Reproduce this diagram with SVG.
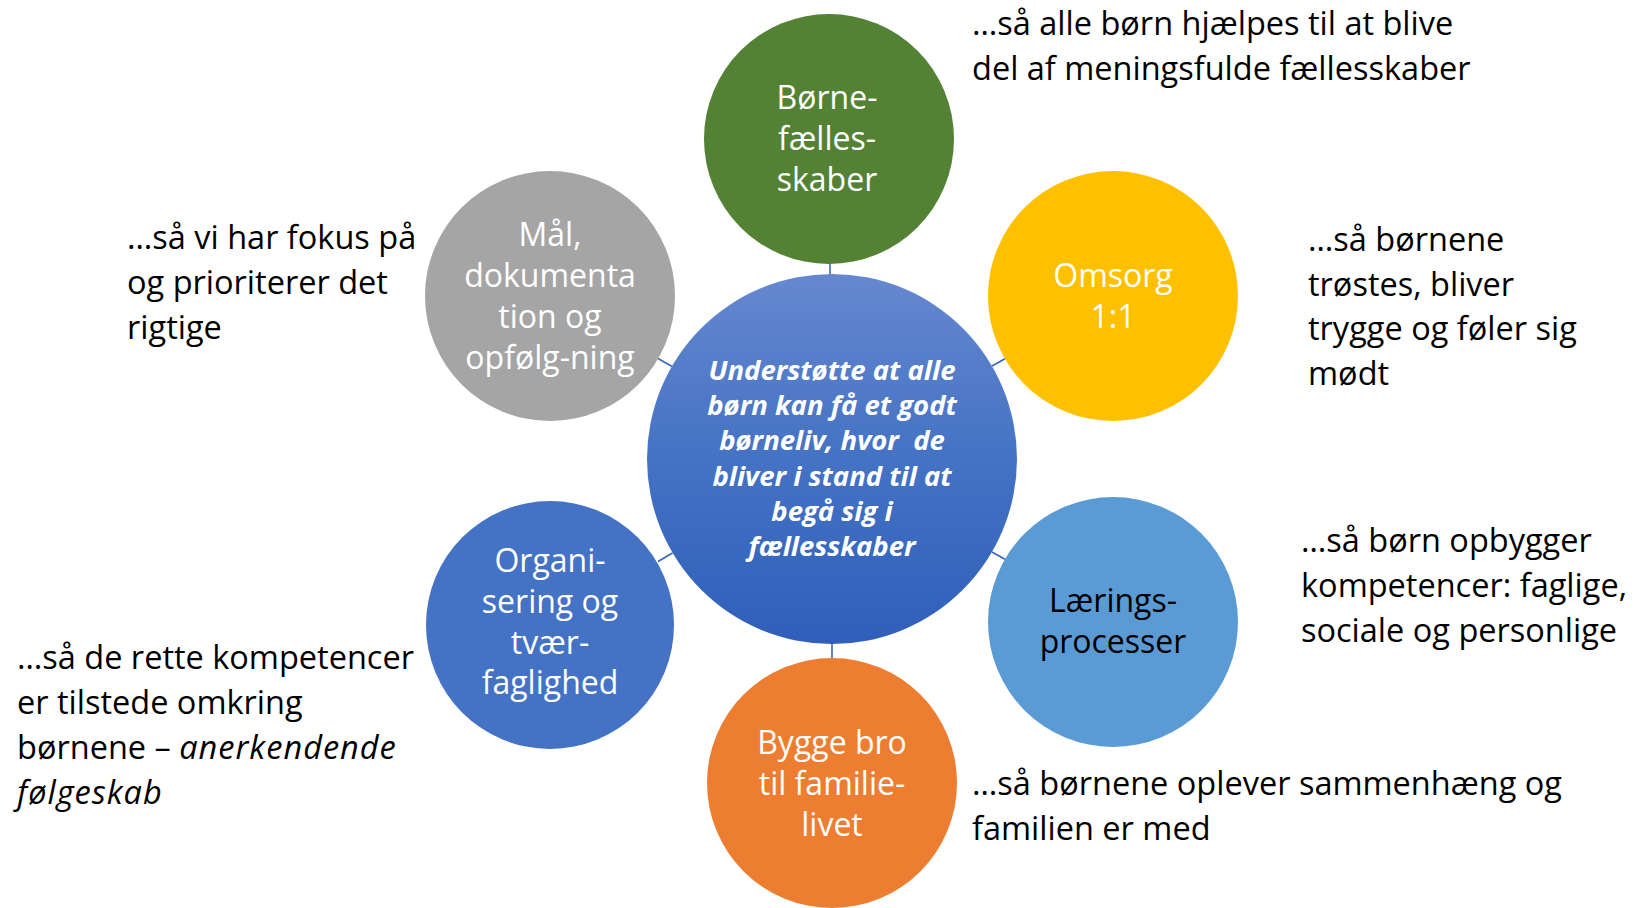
<svg xmlns="http://www.w3.org/2000/svg" width="1637" height="908" viewBox="0 0 1637 908">
  <defs>
    <linearGradient id="centerGrad" x1="0" y1="0" x2="0" y2="1">
      <stop offset="0" stop-color="#6688cf"/>
      <stop offset="0.5" stop-color="#4472c4"/>
      <stop offset="1" stop-color="#2f5fba"/>
    </linearGradient>
    <style>
      .conn { stroke: #3a66b5; stroke-width: 1.6; fill: none; }
      .lbl { font-family: "Open Sans", "Noto Sans", sans-serif; font-size: 32px; fill: #ffffff; text-anchor: middle; }
      .dark { fill: #000000; }
      .side { font-family: "Open Sans", "Noto Sans", sans-serif; font-size: 32.5px; fill: #000000; }
      .center { font-family: "Open Sans", "Noto Sans", sans-serif; font-size: 27.5px; font-weight: bold; font-style: italic; fill: #ffffff; text-anchor: middle; }
      .it { font-style: italic; letter-spacing: 1px; }
    </style>
  </defs>
  <rect width="1637" height="908" fill="#ffffff"/>

  <g id="connectors">
    <line class="conn" x1="830" y1="263" x2="830" y2="275"/>
    <line class="conn" x1="658" y1="358.5" x2="672" y2="366.5"/>
    <line class="conn" x1="992" y1="366" x2="1005" y2="358.7"/>
    <line class="conn" x1="672.5" y1="553" x2="658" y2="561.5"/>
    <line class="conn" x1="992" y1="552" x2="1005" y2="559.3"/>
    <line class="conn" x1="832" y1="643" x2="832" y2="659"/>
  </g>

  <g id="node-center">
    <circle cx="832" cy="459" r="185" fill="url(#centerGrad)"/>
    <text class="center" xml:space="preserve"><tspan x="832" y="380">Understøtte at alle</tspan><tspan x="832" y="415">børn kan få et godt</tspan><tspan x="832" y="450">børneliv, hvor  de</tspan><tspan x="832" y="485.5">bliver i stand til at</tspan><tspan x="832" y="520.5">begå sig i</tspan><tspan x="832" y="555.5">fællesskaber</tspan></text>
  </g>

  <g id="node-boernefaellesskaber">
    <circle cx="829" cy="139" r="125" fill="#548235"/>
    <text class="lbl"><tspan x="827" y="109">Børne-</tspan><tspan x="827" y="150">fælles-</tspan><tspan x="827" y="191">skaber</tspan></text>
  </g>

  <g id="node-maal">
    <circle cx="550" cy="296" r="125" fill="#a5a5a5"/>
    <text class="lbl"><tspan x="550" y="246">Mål,</tspan><tspan x="550" y="287">dokumenta</tspan><tspan x="550" y="328">tion og</tspan><tspan x="550" y="369">opfølg-ning</tspan></text>
  </g>

  <g id="node-omsorg">
    <circle cx="1113" cy="296" r="125" fill="#ffc000"/>
    <text class="lbl"><tspan x="1113" y="287">Omsorg</tspan><tspan x="1113" y="328">1:1</tspan></text>
  </g>

  <g id="node-organisering">
    <circle cx="550" cy="625" r="124" fill="#4472c4"/>
    <text class="lbl"><tspan x="550" y="572">Organi-</tspan><tspan x="550" y="613">sering og</tspan><tspan x="550" y="654">tvær-</tspan><tspan x="550" y="694">faglighed</tspan></text>
  </g>

  <g id="node-laering">
    <circle cx="1113" cy="622" r="125" fill="#5b9bd5"/>
    <text class="lbl dark"><tspan x="1113" y="612">Lærings-</tspan><tspan x="1113" y="653">processer</tspan></text>
  </g>

  <g id="node-bygge-bro">
    <circle cx="832" cy="783" r="125" fill="#ed7d31"/>
    <text class="lbl"><tspan x="832" y="754">Bygge bro</tspan><tspan x="832" y="795">til familie-</tspan><tspan x="832" y="836">livet</tspan></text>
  </g>

  <g id="notes">
    <text class="side"><tspan x="972" y="35">…så alle børn hjælpes til at blive</tspan><tspan x="972" y="80">del af meningsfulde fællesskaber</tspan></text>
    <text class="side"><tspan x="127" y="249">…så vi har fokus på</tspan><tspan x="127" y="294">og prioriterer det</tspan><tspan x="127" y="339">rigtige</tspan></text>
    <text class="side"><tspan x="1308" y="251">…så børnene</tspan><tspan x="1308" y="296">trøstes, bliver</tspan><tspan x="1308" y="340">trygge og føler sig</tspan><tspan x="1308" y="385">mødt</tspan></text>
    <text class="side"><tspan x="1301" y="552">…så børn opbygger</tspan><tspan x="1301" y="597">kompetencer: faglige,</tspan><tspan x="1301" y="642">sociale og personlige</tspan></text>
    <text class="side"><tspan x="17" y="669">…så de rette kompetencer</tspan><tspan x="17" y="714">er tilstede omkring</tspan><tspan x="17" y="759">børnene – <tspan class="it">anerkendende</tspan></tspan><tspan x="17" y="804" class="it">følgeskab</tspan></text>
    <text class="side"><tspan x="972" y="795">…så børnene oplever sammenhæng og</tspan><tspan x="972" y="840">familien er med</tspan></text>
  </g>
</svg>
